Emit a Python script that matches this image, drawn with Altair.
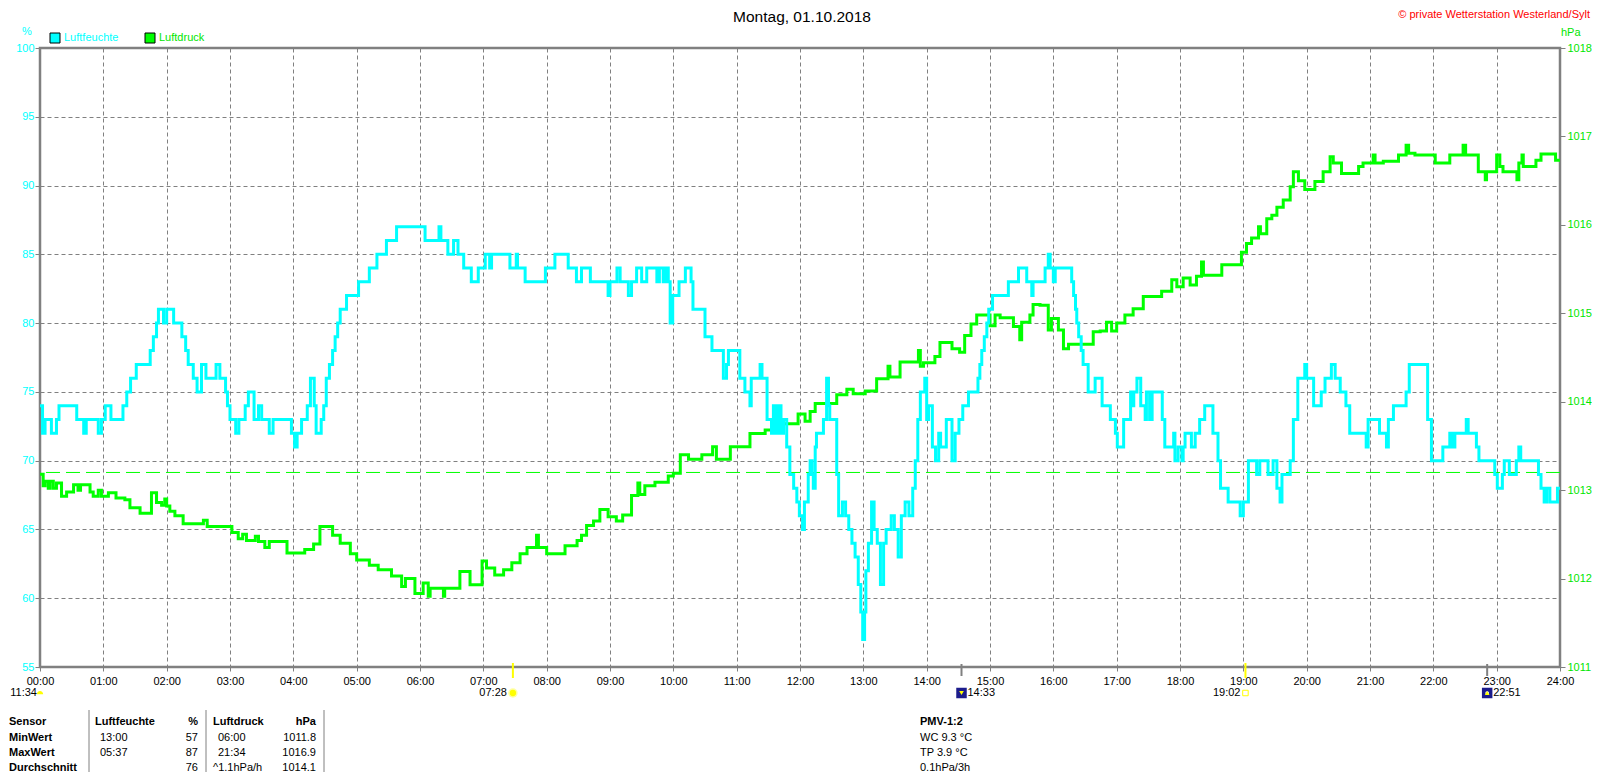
import altair as alt
import pandas as pd

# ---------------- data ----------------
hum_t = [0.00, 0.04, 0.08, 0.18, 0.26, 0.30, 0.58, 0.69, 0.73, 0.92, 0.97, 1.03, 1.12, 1.31, 1.37, 1.43,
         1.52, 1.74, 1.79, 1.84, 1.87, 1.95, 2.00, 2.11, 2.24, 2.30, 2.34, 2.42, 2.48, 2.55, 2.62, 2.78,
         2.84, 2.93, 2.96, 3.00, 3.09, 3.14, 3.24, 3.29, 3.38, 3.45, 3.50, 3.62, 3.68, 3.97, 4.02, 4.06,
         4.13, 4.22, 4.27, 4.33, 4.36, 4.44, 4.48, 4.52, 4.57, 4.62, 4.66, 4.70, 4.74, 4.84, 5.03, 5.20,
         5.32, 5.47, 5.63, 6.08, 6.30, 6.33, 6.44, 6.53, 6.60, 6.69, 6.81, 6.92, 7.03, 7.10, 7.13, 7.42,
         7.52, 7.54, 7.66, 7.98, 8.13, 8.34, 8.47, 8.55, 8.69, 8.97, 9.00, 9.11, 9.16, 9.29, 9.34, 9.42,
         9.50, 9.58, 9.74, 9.78, 9.84, 9.88, 9.92, 9.95, 9.99, 10.09, 10.19, 10.28, 10.31, 10.50, 10.61,
         10.79, 10.84, 10.87, 11.05, 11.13, 11.21, 11.23, 11.37, 11.40, 11.48, 11.55, 11.58, 11.62, 11.66,
         11.70, 11.74, 11.79, 11.84, 11.90, 11.95, 11.99, 12.04, 12.07, 12.13, 12.16, 12.19, 12.21, 12.24,
         12.26, 12.37, 12.42, 12.45, 12.47, 12.58, 12.61, 12.67, 12.72, 12.77, 12.82, 12.87, 12.92, 12.96,
         12.99, 13.02, 13.04, 13.08, 13.13, 13.17, 13.22, 13.27, 13.32, 13.36, 13.44, 13.49, 13.55, 13.60,
         13.66, 13.72, 13.78, 13.82, 13.86, 13.90, 13.97, 14.00, 14.03, 14.09, 14.14, 14.19, 14.22, 14.31,
         14.40, 14.45, 14.51, 14.57, 14.66, 14.81, 14.84, 14.87, 14.91, 14.95, 14.98, 15.04, 15.29, 15.45,
         15.58, 15.66, 15.68, 15.87, 15.92, 15.95, 16.00, 16.03, 16.29, 16.32, 16.35, 16.37, 16.40, 16.44,
         16.47, 16.55, 16.66, 16.77, 16.90, 16.98, 17.01, 17.11, 17.22, 17.25, 17.27, 17.32, 17.38, 17.45,
         17.47, 17.52, 17.56, 17.72, 17.76, 17.90, 17.92, 17.97, 18.03, 18.05, 18.08, 18.18, 18.24, 18.31,
         18.39, 18.52, 18.60, 18.64, 18.76, 18.95, 19.00, 19.08, 19.21, 19.26, 19.39, 19.47, 19.53, 19.58,
         19.61, 19.74, 19.79, 19.86, 19.97, 20.00, 20.11, 20.23, 20.29, 20.39, 20.45, 20.53, 20.62, 20.68,
         20.94, 20.97, 21.15, 21.26, 21.29, 21.37, 21.57, 21.62, 21.91, 21.97, 22.15, 22.26, 22.30, 22.34,
         22.52, 22.55, 22.68, 22.72, 22.97, 23.01, 23.09, 23.12, 23.20, 23.31, 23.35, 23.38, 23.66, 23.70,
         23.75, 23.79, 23.84, 23.96, 24.00]
hum_v = [74, 72, 73, 72, 73, 74, 73, 72, 73, 72, 73, 74, 73, 74, 75, 76,
         77, 78, 79, 80, 81, 80, 81, 80, 79, 78, 77, 76, 75, 77, 76, 77,
         76, 75, 74, 73, 72, 73, 74, 75, 73, 74, 73, 72, 73, 72, 71, 72,
         73, 74, 76, 74, 72, 73, 74, 76, 77, 78, 79, 80, 81, 82, 83, 84,
         85, 86, 87, 86, 87, 86, 85, 86, 85, 84, 83, 84, 85, 84, 85, 84,
         85, 84, 83, 84, 85, 84, 83, 84, 83, 82, 83, 84, 83, 82, 83, 84,
         83, 84, 83, 84, 83, 84, 83, 80, 82, 83, 84, 83, 81, 79, 78,
         76, 77, 78, 76, 75, 74, 76, 77, 76, 73, 72, 74, 72, 74,
         72, 73, 71, 69, 68, 67, 66, 65, 67, 69, 70, 69, 68, 71,
         72, 73, 76, 74, 73, 69, 66, 67, 66, 65, 64, 63, 61, 59,
         57, 59, 62, 64, 67, 65, 64, 61, 64, 65, 66, 65, 63, 66,
         67, 66, 68, 70, 73, 75, 76, 73, 74, 71, 70, 72, 71, 73,
         70, 72, 73, 74, 75, 76, 77, 78, 79, 80, 81, 82, 83, 84,
         83, 82, 83, 84, 85, 84, 83, 84, 83, 82, 81, 80, 79, 78,
         77, 75, 76, 74, 73, 72, 71, 73, 75, 74, 75, 76, 74, 73,
         75, 73, 75, 73, 71, 72, 70, 71, 70, 71, 72, 71, 72, 73,
         74, 72, 70, 68, 67, 66, 67, 70, 69, 70, 69, 70, 68, 67,
         69, 70, 73, 76, 77, 76, 74, 75, 76, 77, 76, 75, 74, 72,
         71, 73, 72, 71, 73, 74, 75, 77, 73, 70, 71, 72, 71, 72,
         73, 72, 71, 70, 69, 68, 69, 70, 69, 70, 71, 70, 69, 68,
         67, 68, 67, 68, 68]

pres_t = [0.00, 0.05, 0.08, 0.13, 0.16, 0.21, 0.26, 0.34, 0.42, 0.53, 0.60, 0.64, 0.79, 0.84, 0.92, 0.97,
          1.08, 1.20, 1.34, 1.42, 1.58, 1.76, 1.84, 1.92, 1.97, 2.00, 2.05, 2.13, 2.26, 2.58, 2.64, 3.03,
          3.13, 3.20, 3.26, 3.40, 3.45, 3.55, 3.62, 3.90, 4.18, 4.32, 4.42, 4.62, 4.74, 4.90, 5.00, 5.20,
          5.34, 5.55, 5.71, 5.77, 5.92, 6.05, 6.13, 6.16, 6.37, 6.39, 6.63, 6.79, 6.98, 7.05, 7.18, 7.32,
          7.45, 7.58, 7.69, 7.84, 7.87, 8.00, 8.29, 8.48, 8.55, 8.63, 8.74, 8.84, 8.97, 9.10, 9.20, 9.34,
          9.44, 9.47, 9.55, 9.71, 9.92, 10.00, 10.11, 10.24, 10.45, 10.62, 10.68, 10.90, 11.21, 11.45,
          11.60, 11.71, 11.97, 12.08, 12.16, 12.24, 12.58, 12.74, 12.84, 13.03, 13.21, 13.39, 13.42, 13.58,
          13.87, 13.90, 13.95, 14.13, 14.21, 14.40, 14.52, 14.60, 14.70, 14.79, 15.00, 15.08, 15.16, 15.37,
          15.47, 15.50, 15.63, 15.68, 15.79, 15.92, 15.97, 16.08, 16.16, 16.24, 16.63, 16.74, 16.84, 16.92,
          17.00, 17.13, 17.26, 17.42, 17.71, 17.87, 17.95, 18.05, 18.16, 18.26, 18.34, 18.37, 18.66, 18.97,
          19.05, 19.13, 19.24, 19.27, 19.37, 19.45, 19.53, 19.63, 19.74, 19.79, 19.87, 19.97, 20.13, 20.26,
          20.37, 20.42, 20.55, 20.82, 20.89, 21.05, 21.08, 21.21, 21.45, 21.57, 21.61, 21.71, 22.03, 22.26,
          22.47, 22.51, 22.71, 22.82, 22.84, 23.00, 23.05, 23.10, 23.32, 23.35, 23.40, 23.42, 23.62, 23.70,
          23.93, 24.00]
pres_v = [1013.18, 1013.05, 1013.10, 1013.02, 1013.10, 1013.02, 1013.08, 1012.93, 1012.98, 1013.06, 1013.00,
          1013.06, 1012.98, 1012.93, 1013.00, 1012.93, 1012.97, 1012.91, 1012.89, 1012.80, 1012.74, 1012.97,
          1012.86, 1012.83, 1012.90, 1012.82, 1012.76, 1012.71, 1012.62, 1012.66, 1012.59, 1012.52, 1012.45,
          1012.50, 1012.43, 1012.48, 1012.42, 1012.35, 1012.42, 1012.29, 1012.33, 1012.39, 1012.59, 1012.49,
          1012.40, 1012.28, 1012.21, 1012.15, 1012.10, 1012.03, 1011.91, 1012.00, 1011.83, 1011.95, 1011.80,
          1011.89, 1011.80, 1011.89, 1012.08, 1011.93, 1012.20, 1012.12, 1012.04, 1012.10, 1012.18, 1012.28,
          1012.35, 1012.49, 1012.35, 1012.28, 1012.37, 1012.43, 1012.49, 1012.60, 1012.65, 1012.78, 1012.70,
          1012.65, 1012.72, 1012.94, 1013.08, 1012.95, 1013.05, 1013.09, 1013.16, 1013.19, 1013.40, 1013.35,
          1013.40, 1013.49, 1013.35, 1013.49, 1013.64, 1013.68, 1013.72, 1013.75, 1013.86, 1013.78, 1013.89,
          1013.98, 1014.08, 1014.14, 1014.09, 1014.12, 1014.26, 1014.40, 1014.28, 1014.45, 1014.58, 1014.40,
          1014.44, 1014.51, 1014.67, 1014.60, 1014.56, 1014.75, 1014.88, 1014.98, 1014.86, 1014.98, 1014.95,
          1014.85, 1014.70, 1014.90, 1014.98, 1015.10, 1015.09, 1014.81, 1014.94, 1014.81, 1014.60, 1014.65,
          1014.79, 1014.80, 1014.90, 1014.80, 1014.89, 1014.98, 1015.05, 1015.19, 1015.25, 1015.38, 1015.30,
          1015.40, 1015.32, 1015.42, 1015.58, 1015.43, 1015.55, 1015.69, 1015.79, 1015.85, 1015.98, 1015.90,
          1016.07, 1016.11, 1016.20, 1016.28, 1016.43, 1016.60, 1016.50, 1016.40, 1016.49, 1016.60, 1016.77,
          1016.70, 1016.58, 1016.66, 1016.70, 1016.79, 1016.70, 1016.72, 1016.79, 1016.90, 1016.81, 1016.79,
          1016.70, 1016.79, 1016.90, 1016.79, 1016.60, 1016.51, 1016.60, 1016.79, 1016.66, 1016.60, 1016.51,
          1016.70, 1016.79, 1016.66, 1016.73, 1016.80, 1016.73, 1016.73]

hours = list(range(25))
hum_ticks = list(range(55, 101, 5))
pres_ticks = list(range(1011, 1019))
ref_pressure = [1013.2]

title_text = "Montag, 01.10.2018"
copyright_text = "\u00a9 private Wetterstation Westerland/Sylt"
legend_names = ["Luftfeuchte", "Luftdruck"]

# sun / moon events (hours)
sunrise_t, sunrise_lbl = 7 + 28 / 60, "07:28"
sunset_t, sunset_lbl = 19 + 2 / 60, "19:02"
moon1_t, moon1_lbl = 14 + 33 / 60, "14:33"
moon2_t, moon2_lbl = 22 + 51 / 60, "22:51"
start_lbl = "11:34"

row_labels = ["Sensor", "MinWert", "MaxWert", "Durchschnitt"]
hum_head, hum_unit = "Luftfeuchte", "%"
hum_times = ["13:00", "05:37", ""]
hum_vals = ["57", "87", "76"]
pres_head, pres_unit = "Luftdruck", "hPa"
pres_times = ["06:00", "21:34", "^1.1hPa/h"]
pres_vals = ["1011.8", "1016.9", "1014.1"]
pmv_lines = ["PMV-1:2", "WC 9.3 \u00b0C", "TP 3.9 \u00b0C", "0.1hPa/3h"]

# ---------------- style ----------------
W, H = 1520, 619
FONT = "Liberation Sans"
CYAN = "#00ffff"
GREEN = "#00ff00"
GTEXT = "#00e600"
GRAY = "#808080"
YEL = "#ffff00"
NAVY = "#1c1c8c"

hum_df = pd.DataFrame({"t": hum_t, "v": hum_v})
pres_df = pd.DataFrame({"t": pres_t, "p": pres_v})
ref_df = pd.DataFrame({"p": ref_pressure})
one = pd.DataFrame({"k": [0]})

x_enc = alt.X(
    "t:Q",
    scale=alt.Scale(domain=[0, 24], nice=False, zero=False),
    axis=alt.Axis(values=hours, title=None,
                  labelExpr="(datum.value < 10 ? '0' : '') + datum.value + ':00'",
                  grid=True, gridColor=GRAY, gridDash=[4, 3], gridWidth=1,
                  domain=False, ticks=True, tickSize=4, tickColor=GRAY,
                  labelColor="black", labelFont=FONT, labelFontSize=11,
                  labelPadding=4, labelFlush=False, labelOverlap=False),
)

hum_scale = alt.Scale(domain=[55, 100], nice=False, zero=False)
pres_scale = alt.Scale(domain=[1011, 1018], nice=False, zero=False)

hum_line = alt.Chart(hum_df).mark_line(
    interpolate="step-after", color=CYAN, strokeWidth=3
).encode(
    x=x_enc,
    y=alt.Y("v:Q", scale=hum_scale,
            axis=alt.Axis(orient="left", values=hum_ticks, title=None, grid=True,
                          gridColor=GRAY, gridDash=[4, 3], gridWidth=1, domain=False,
                          tickSize=5, tickColor=GRAY, labelColor=CYAN, labelFont=FONT,
                          labelFontSize=11, labelPadding=1)),
)

pres_line = alt.Chart(pres_df).mark_line(
    interpolate="step-after", color=GREEN, strokeWidth=3
).encode(
    x=x_enc,
    y=alt.Y("p:Q", scale=pres_scale,
            axis=alt.Axis(orient="right", values=pres_ticks, title=None, grid=False,
                          format="d", domain=False, tickSize=5, tickColor=GRAY,
                          labelColor=GTEXT, labelFont=FONT, labelFontSize=11,
                          labelPadding=2)),
)

ref_rule = alt.Chart(ref_df).mark_rule(
    color=GREEN, strokeDash=[14, 6], strokeWidth=1
).encode(y=alt.Y("p:Q", scale=pres_scale, axis=None))


def txt(s, x, y, color="black", size=11, weight="normal", align="left"):
    return alt.Chart(one).mark_text(
        text=s, align=align, baseline="middle", font=FONT, fontSize=size,
        fontWeight=weight, color=color
    ).encode(x=alt.value(x), y=alt.value(y))


def vrule(x, y1, y2, color=GRAY, w=1):
    return alt.Chart(one).mark_rule(color=color, strokeWidth=w).encode(
        x=alt.value(x), y=alt.value(y1), y2=alt.value(y2))


def ev_df(t):
    return pd.DataFrame({"t": [t]})


def ev_tick(t, color, w=2, y1=615, y2=630):
    return alt.Chart(ev_df(t)).mark_rule(color=color, strokeWidth=w).encode(
        x=x_enc, y=alt.value(y1), y2=alt.value(y2))


def ev_text(t, s, dx, align):
    return alt.Chart(ev_df(t)).mark_text(
        text=s, align=align, baseline="middle", font=FONT, fontSize=11, color="black", dx=dx
    ).encode(x=x_enc, y=alt.value(645))


def ev_point(t, shape, size, fill, stroke=None, dx=0, dy=0, filled=True, sw=1):
    kw = dict(shape=shape, size=size, filled=filled, opacity=1, dx=dx, dy=dy)
    if filled:
        kw["fill"] = fill
        kw["stroke"] = stroke if stroke else fill
        kw["strokeWidth"] = sw if stroke else 0
    else:
        kw["stroke"] = fill
        kw["strokeWidth"] = sw
    return alt.Chart(ev_df(t)).mark_point(**kw).encode(x=x_enc, y=alt.value(645))


layers = [ref_rule, pres_line, hum_line]

# header texts
layers += [
    txt(title_text, 762, -31, size=15.5, align="center"),
    txt(copyright_text, 1550, -33, color="#ff0000", size=11, align="right"),
    txt("%", -13, -16, color=CYAN, align="center"),
    txt("hPa", 1521, -15, color=GTEXT),
]

# legend
layers += [
    alt.Chart(one).mark_square(size=100, fill=CYAN, stroke="black", strokeWidth=1,
                               filled=True, opacity=1).encode(x=alt.value(15), y=alt.value(-10)),
    txt(legend_names[0], 24, -10, color=CYAN),
    alt.Chart(one).mark_square(size=100, fill=GREEN, stroke="black", strokeWidth=1,
                               filled=True, opacity=1).encode(x=alt.value(110), y=alt.value(-10)),
    txt(legend_names[1], 119, -10, color=GTEXT),
]

# sun / moon markers below axis
moon_shape = "M -1 0.4 A 1 1 0 0 1 1 0.4 Z"
layers += [
    ev_text(0, start_lbl, -3, "right"),
    ev_point(0, moon_shape, 40, YEL, dx=5, dy=1),
    ev_tick(sunrise_t, YEL),
    ev_text(sunrise_t, sunrise_lbl, -6, "right"),
    ev_point(sunrise_t, "circle", 90, "#ffffa0"),
    ev_point(sunrise_t, "circle", 40, YEL),
    ev_tick(moon1_t, GRAY, 2, 616, 628),
    ev_point(moon1_t, "square", 110, NAVY),
    ev_point(moon1_t, "triangle-down", 22, YEL, dy=1),
    ev_text(moon1_t, moon1_lbl, 6, "left"),
    ev_tick(sunset_t, YEL),
    ev_text(sunset_t, sunset_lbl, -5, "right"),
    ev_point(sunset_t, "square", 30, YEL, filled=False, sw=1),
    ev_tick(moon2_t, GRAY, 2, 616, 628),
    ev_point(moon2_t, "square", 110, NAVY),
    ev_point(moon2_t, "circle", 14, "white", dx=-2, dy=-3),
    ev_point(moon2_t, "triangle-up", 22, YEL, dx=1, dy=2),
    ev_text(moon2_t, moon2_lbl, 6, "left"),
]

# statistics table
rows_y = [674, 689.5, 705, 720]
layers += [vrule(49, 662, 724), vrule(166, 662, 724), vrule(284, 662, 724)]
for i, s in enumerate(row_labels):
    layers.append(txt(s, -31, rows_y[i], weight="bold"))
layers += [
    txt(hum_head, 55, rows_y[0], weight="bold"),
    txt(hum_unit, 158, rows_y[0], weight="bold", align="right"),
    txt(pres_head, 173, rows_y[0], weight="bold"),
    txt(pres_unit, 276, rows_y[0], weight="bold", align="right"),
]
for i in range(3):
    if hum_times[i]:
        layers.append(txt(hum_times[i], 60, rows_y[i + 1]))
    layers.append(txt(hum_vals[i], 158, rows_y[i + 1], align="right"))
    px = 178 if i < 2 else 173
    layers.append(txt(pres_times[i], px, rows_y[i + 1]))
    layers.append(txt(pres_vals[i], 276, rows_y[i + 1], align="right"))
for i, s in enumerate(pmv_lines):
    layers.append(txt(s, 880, rows_y[i], weight="bold" if i == 0 else "normal"))

chart = alt.layer(*layers).resolve_scale(y="independent").properties(
    width=W, height=H,
    padding={"left": 32, "top": 40, "right": 32, "bottom": 105},
    autosize=alt.AutoSizeParams(type="none"),
    background="white",
).configure_view(stroke=GRAY, strokeWidth=2.5)

chart.save("out.html", embed_options={"renderer": "svg", "actions": False})
